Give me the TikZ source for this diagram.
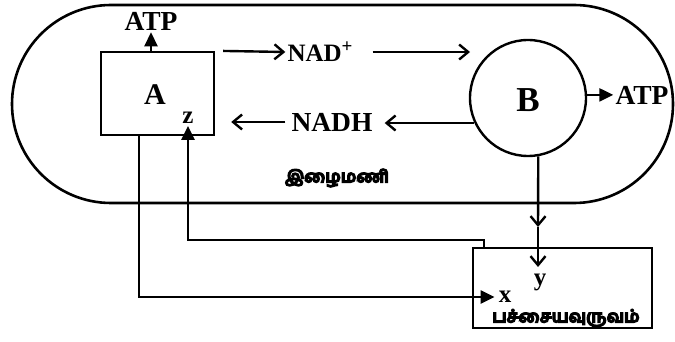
\documentclass[tikz,border=0pt]{standalone}
\usepackage{fontspec}
\setmainfont{Liberation Serif}
\newfontfamily\tamilfont[Script=Tamil,FakeBold=7]{Hind Madurai}
\usetikzlibrary{arrows.meta}
\begin{document}
\begin{tikzpicture}[x=1pt,y=-1pt, line width=2.4pt,
  lbl/.style={inner sep=1pt, font=\bfseries\fontsize{27.5}{29}\selectfont},
  sml/.style={inner sep=1pt, font=\bfseries\fontsize{25}{27}\selectfont},
  tam/.style={inner sep=1pt, font=\tamilfont\bfseries\fontsize{17}{19}\selectfont},
  barb/.style={-{Straight Barb[length=9pt,width=15pt,line width=2.4pt]}},
  tri/.style={-{Triangle[length=14pt,width=13pt]}},
  ]
\useasboundingbox (0,0) rectangle (675,342);
% outer membrane
\draw[line width=2.6pt, rounded corners=99pt] (12,5) rectangle (673,203);
% box A
\node[draw, minimum width=113pt, minimum height=83pt] (boxA) at (157.5,93.5) {};
\node[lbl, font=\bfseries\fontsize{30}{32}\selectfont] (labA) at (155,95) {A};
\node[lbl] (atpA) at (151,21) {ATP};
\draw[tri] (boxA.north -| atpA) -- (atpA.south);
% NAD+
\node[sml] (nadp) at (320,52) {NAD\raisebox{0.35em}{\fontsize{19}{19}\selectfont +}};
\coordinate (nadtip) at (470,52);
\draw[barb, shorten <=8pt] (boxA.north east) -- (nadp.west);
\draw[barb, shorten <=18pt] (nadp.east) -- (nadtip);
% B
\node[draw, circle, minimum size=116pt] (B) at (528,98) {};
\node[lbl, font=\bfseries\fontsize{35}{37}\selectfont] (labB) at (528,100) {B};
\node[lbl] (atpB) at (642,95) {ATP};
\draw[tri] (B.3) -- (B.3 -| atpB.west);
% NADH
\node[lbl] (nadh) at (332,122) {NADH};
\draw[barb, shorten >=10pt] (B.205) -- (B.205 -| nadh.east);
\draw[barb, shorten >=16pt, shorten <=4pt] (nadh.west) -- (nadh.west -| boxA.east);
% mitochondrion label
\node[tam] (mito) at (337,178) {இழைமணி};
% box C (chloroplast)
\node[draw, minimum width=179pt, minimum height=80pt] (C) at (562.5,288) {};
\node[tam] (chloro) at (566,318) {பச்சையவுருவம்};
\node[sml] (z) at (188,118) {z};
\node[sml] (xl) at (505,297) {x};
\node[sml] (yl) at (540,282) {y};
\draw[tri] ([xshift=12pt]C.north west) -- ++(0,-7) -| (z.south);
\draw[tri, shorten >=2pt] ([xshift=39pt]boxA.south west) |- (xl.west);
\coordinate (mid) at (538,227);
\coordinate (ytip) at (538,267);
\draw[barb] (B.280) -- (mid);
\draw[barb] (mid) -- (ytip);
\end{tikzpicture}
\end{document}
